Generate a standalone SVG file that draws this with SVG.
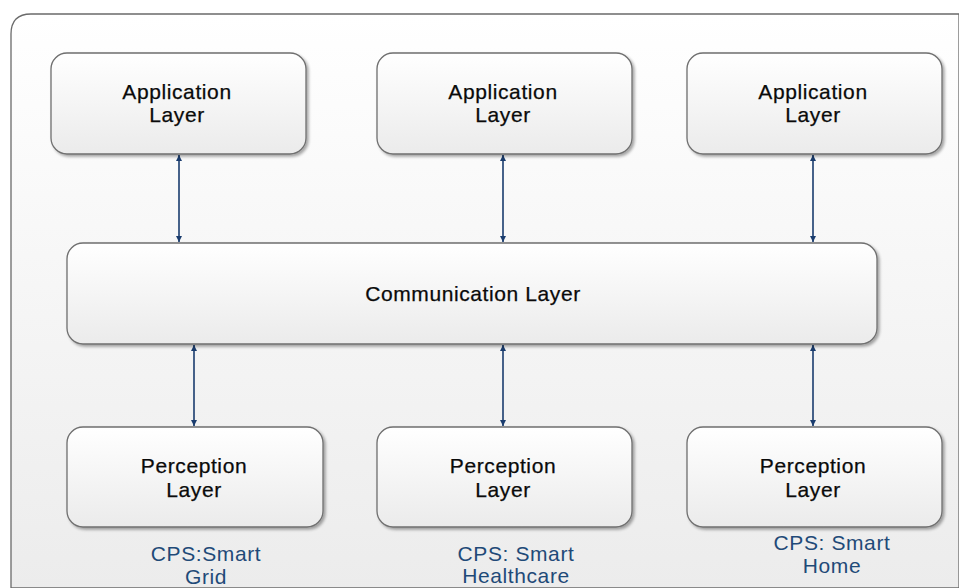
<svg xmlns="http://www.w3.org/2000/svg" width="959" height="588" viewBox="0 0 959 588">
<defs>
<linearGradient id="bg" x1="0" y1="0" x2="0" y2="1">
<stop offset="0" stop-color="#ffffff"/><stop offset="1" stop-color="#ececec"/>
</linearGradient>
<linearGradient id="box" x1="0" y1="0" x2="0" y2="1">
<stop offset="0" stop-color="#ffffff"/><stop offset="1" stop-color="#ebebeb"/>
</linearGradient>
<filter id="sh" x="-5%" y="-10%" width="112%" height="125%">
<feGaussianBlur in="SourceAlpha" stdDeviation="1.5"/>
<feOffset dx="2" dy="2"/>
<feComponentTransfer><feFuncA type="linear" slope="0.35"/></feComponentTransfer>
<feMerge><feMergeNode/><feMergeNode in="SourceGraphic"/></feMerge>
</filter>
<marker id="ah" viewBox="0 0 10 10" refX="10" refY="5" markerWidth="6" markerHeight="9" orient="auto-start-reverse" markerUnits="userSpaceOnUse">
<path d="M0,0 L10,5 L0,10 z" fill="#1a3c6e"/>
</marker>
</defs>
<style>
.node rect{fill:url(#box);stroke:#6f6f6f;stroke-width:1.3;filter:url(#sh)}
.lbl{font-family:"Liberation Sans",Arial,sans-serif;font-size:21px;letter-spacing:0.6px;fill:#0a0a0a;stroke:#0a0a0a;stroke-width:0.25;text-anchor:middle}
.cps{font-family:"Liberation Sans",Arial,sans-serif;font-size:21px;letter-spacing:0.6px;fill:#1f4a78;text-anchor:middle}
.conn line{stroke:#1a3c6e;stroke-width:1.6;marker-start:url(#ah);marker-end:url(#ah)}
</style>
<rect x="0" y="0" width="959" height="588" fill="#ffffff"/>
<path d="M11,588 L11,34 Q11,14 31,14 L959,14 L959,588 Z" fill="url(#bg)" stroke="#6a6a6a" stroke-width="1.3"/>

<g class="conn" id="connectors">
<line x1="179" y1="155" x2="179" y2="242"/>
<line x1="503" y1="155" x2="503" y2="242"/>
<line x1="813" y1="155" x2="813" y2="242"/>
<line x1="194" y1="345" x2="194" y2="426"/>
<line x1="503" y1="345" x2="503" y2="426"/>
<line x1="813" y1="345" x2="813" y2="426"/>
</g>

<g class="node" id="app1"><rect x="51" y="53" width="255" height="101" rx="16"/>
<text class="lbl" x="177" y="99">Application</text><text class="lbl" x="177" y="122">Layer</text></g>
<g class="node" id="app2"><rect x="377" y="53" width="255" height="101" rx="16"/>
<text class="lbl" x="503" y="99">Application</text><text class="lbl" x="503" y="122">Layer</text></g>
<g class="node" id="app3"><rect x="687" y="53" width="255" height="101" rx="16"/>
<text class="lbl" x="813" y="99">Application</text><text class="lbl" x="813" y="122">Layer</text></g>

<g class="node" id="comm"><rect x="67" y="243" width="810" height="101" rx="16"/>
<text class="lbl" x="473" y="301">Communication Layer</text></g>

<g class="node" id="perc1"><rect x="67" y="427" width="256" height="100" rx="16"/>
<text class="lbl" x="194" y="473">Perception</text><text class="lbl" x="194" y="497">Layer</text></g>
<g class="node" id="perc2"><rect x="377" y="427" width="255" height="100" rx="16"/>
<text class="lbl" x="503" y="473">Perception</text><text class="lbl" x="503" y="497">Layer</text></g>
<g class="node" id="perc3"><rect x="687" y="427" width="255" height="100" rx="16"/>
<text class="lbl" x="813" y="473">Perception</text><text class="lbl" x="813" y="497">Layer</text></g>

<g id="cps1"><text class="cps" x="206" y="561">CPS:Smart</text><text class="cps" x="206" y="584">Grid</text></g>
<g id="cps2"><text class="cps" x="516" y="561">CPS: Smart</text><text class="cps" x="516" y="583">Healthcare</text></g>
<g id="cps3"><text class="cps" x="832" y="550">CPS: Smart</text><text class="cps" x="832" y="573">Home</text></g>
</svg>
